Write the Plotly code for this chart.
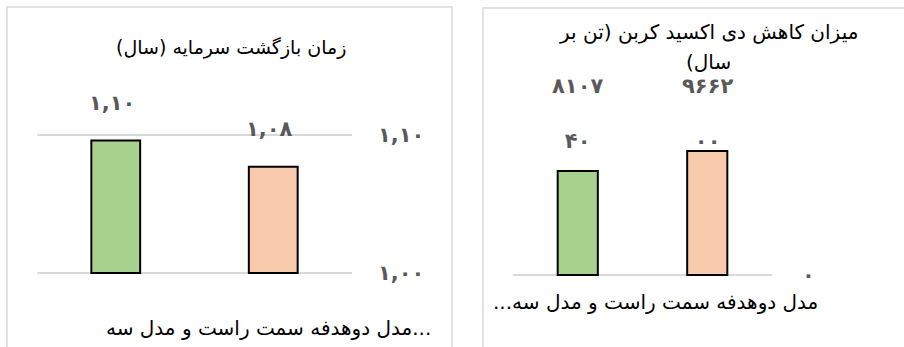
import plotly.graph_objects as go

# data
CATEGORY = "مدل دوهدفه سمت راست و مدل سه..."
SERIES = ["مدل سه هدفه", "مدل دوهدفه"]
COLORS = ["#A9D18E", "#F8CBAD"]

PAYBACK_TITLE = "زمان بازگشت سرمایه (سال)"
PAYBACK = [1.096, 1.077]
PAYBACK_TICKS = [1.00, 1.10]

CO2_TITLE = ["میزان کاهش دی اکسید کربن (تن بر", "سال)"]
CO2 = [810740, 966200]
CO2_TICKS = [0]

W, H = 904, 347
FA = str.maketrans("0123456789", "۰۱۲۳۴۵۶۷۸۹")
RLM = "\u200f"
FONT = "DejaVu Sans"
GRAY = "#595959"


def fa_dec(v):
    return f"{v:.2f}".replace(".", ",").translate(FA)


def fa_int(v):
    return f"{v:d}".translate(FA)


def px(x):
    return x / W


def py(y):
    return 1 - y / H


def label(x, y, text, size=18, **kw):
    return dict(x=px(x), y=py(y), xref="paper", yref="paper", text=text,
                xanchor="center", yanchor="middle", showarrow=False,
                font=dict(size=size, color="black"), **kw)


fig = go.Figure()
for i, name in enumerate(SERIES):
    fig.add_trace(go.Bar(
        x=[CATEGORY], y=[PAYBACK[i] - PAYBACK_TICKS[0]], base=PAYBACK_TICKS[0],
        name=name, marker=dict(color=COLORS[i], line=dict(color="black", width=2)),
        xaxis="x", yaxis="y",
    ))
    fig.add_trace(go.Bar(
        x=[CATEGORY], y=[CO2[i]],
        name=name, marker=dict(color=COLORS[i], line=dict(color="black", width=2)),
        xaxis="x2", yaxis="y2",
    ))

ann = []
# value labels
for i, v in enumerate(PAYBACK):
    ann.append(dict(x=CATEGORY, y=v, xref="x", yref="y", text=fa_dec(v),
                    xanchor="center", yanchor="middle",
                    xshift=(i - 0.5) * 0.5 * 315 - 3.5, yshift=38, showarrow=False,
                    font=dict(size=21, color=GRAY, weight="bold")))
for i, v in enumerate(CO2):
    s = fa_int(v)
    ann.append(dict(x=CATEGORY, y=max(CO2), xref="x2", yref="y2",
                    text=s[:4] + "<br><br>" + s[4:],
                    xanchor="center", yanchor="middle",
                    xshift=(i - 0.5) * 0.5 * 259, yshift=38, showarrow=False,
                    font=dict(size=21, color=GRAY, weight="bold")))
# titles
ann.append(label(231, 48, PAYBACK_TITLE + RLM, size=19))
for j, line in enumerate(CO2_TITLE):
    ann.append(label(708, 32 + 30 * j, line + RLM, size=20))
# category labels
ann.append(label(268, 328, CATEGORY, size=20))
ann.append(label(655, 302, CATEGORY + RLM, size=20))

shapes = [
    dict(type="rect", xref="paper", yref="paper", x0=px(7), x1=px(452), y0=-0.2, y1=py(7),
         line=dict(color="#D9D9D9", width=1.5)),
    dict(type="rect", xref="paper", yref="paper", x0=px(483), x1=1.2, y0=-0.2, y1=py(8),
         line=dict(color="#D9D9D9", width=1.5)),
]

axis_x = dict(showticklabels=False, showgrid=False, zeroline=False, showline=False,
              range=[-0.5, 0.5], automargin=False)
fig.update_layout(
    width=W, height=H,
    margin=dict(l=0, r=0, t=0, b=0, pad=0),
    paper_bgcolor="white", plot_bgcolor="white",
    font=dict(family=FONT, color="black"),
    showlegend=False,
    barmode="group", bargap=0, bargroupgap=0.69,
    xaxis=dict(domain=[px(37), px(352)], anchor="y", **axis_x),
    xaxis2=dict(domain=[px(513), px(772)], anchor="y2", **axis_x),
    yaxis=dict(domain=[py(286.8), py(107.4)], range=[0.99, 1.12], anchor="x", side="right",
               tickvals=PAYBACK_TICKS, ticktext=[fa_dec(t) for t in PAYBACK_TICKS],
               showgrid=True, gridcolor="#D9D9D9", gridwidth=1.5, zeroline=False,
               automargin=False,
               ticklabelstandoff=25, tickfont=dict(size=21, color=GRAY, weight="bold")),
    yaxis2=dict(domain=[py(278.85), py(108.2)], range=[-30000, 1300000], anchor="x2", side="right",
                tickvals=CO2_TICKS, ticktext=[fa_int(t) for t in CO2_TICKS],
                showgrid=True, gridcolor="#D9D9D9", gridwidth=1.5, zeroline=False,
                automargin=False,
                ticklabelstandoff=29, tickfont=dict(size=21, color=GRAY, weight="bold")),
    annotations=ann,
    shapes=shapes,
)

# page body has a default 8px margin; drop it so the figure sits at the corner
fig.write_html("out.html", config={"displayModeBar": False},
               post_script="document.body.style.margin='0px';")
